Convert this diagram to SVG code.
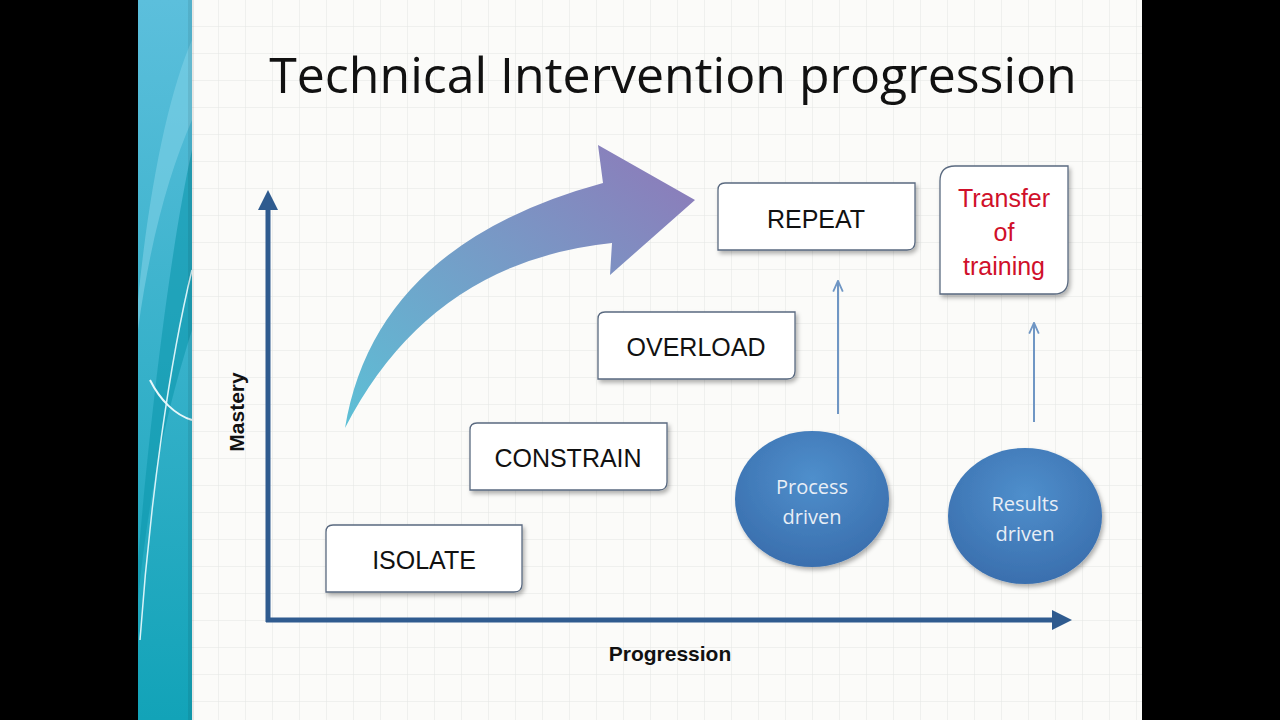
<svg xmlns="http://www.w3.org/2000/svg" width="1280" height="720" viewBox="0 0 1280 720">
<defs>
<pattern id="grid" width="27" height="27" patternUnits="userSpaceOnUse" x="192" y="0">
<rect width="27" height="27" fill="#fbfbf9"/>
<path d="M27 0V27M0 27H27" stroke="#e4e6e4" stroke-width="1" fill="none"/>
</pattern>
<linearGradient id="arr" x1="0" y1="1" x2="1" y2="0">
<stop offset="0" stop-color="#5cc0d6"/>
<stop offset="1" stop-color="#8f78b8"/>
</linearGradient>
<radialGradient id="circ" cx="0.5" cy="0.35" r="0.65">
<stop offset="0" stop-color="#4f8fcc"/>
<stop offset="1" stop-color="#3a6fae"/>
</radialGradient>
<linearGradient id="band" x1="0" y1="0" x2="0" y2="1">
<stop offset="0" stop-color="#5cbfdc"/>
<stop offset="1" stop-color="#12a3b8"/>
</linearGradient>
<marker id="ah" viewBox="0 0 10 10" refX="5" refY="5" markerWidth="4" markerHeight="4" orient="auto">
<path d="M0,0 L10,5 L0,10 z" fill="#2f5b8f"/>
</marker>
<marker id="ah2" viewBox="0 0 10 10" refX="8" refY="5" markerWidth="6" markerHeight="6" orient="auto">
<path d="M0,1 L9,5 L0,9" fill="none" stroke="#6f96c4" stroke-width="1.5"/>
</marker>
<filter id="sh" x="-10%" y="-10%" width="130%" height="140%">
<feDropShadow dx="2" dy="3" stdDeviation="2" flood-color="#000" flood-opacity="0.3"/>
</filter>
</defs>
<style>
.box{fill:#fff;stroke:#5a6a80;stroke-width:1.3;filter:url(#sh)}
.bt{font-family:"Liberation Sans",Arial,sans-serif;font-size:25px;fill:#111;text-anchor:middle}
.ct{font-family:"Open Sans","Liberation Sans",sans-serif;font-size:20px;fill:#e8eef6;text-anchor:middle}
.ax{font-family:"Liberation Sans",Arial,sans-serif;font-size:21px;font-weight:bold;fill:#111;text-anchor:middle}
</style>
<rect width="1280" height="720" fill="#000"/>
<rect x="138" y="0" width="1004" height="720" fill="url(#grid)"/>
<rect x="138" y="0" width="54" height="720" fill="url(#band)"/>
<path d="M138,300 C150,180 170,90 192,40 L192,120 C170,170 150,240 138,330Z" fill="#7fd0e6" opacity="0.6"/>
<path d="M138,560 C150,420 170,250 192,150 L192,330 C170,400 150,480 138,600Z" fill="#0d97ad" opacity="0.6"/>
<path d="M140,640 C150,500 170,360 192,270" stroke="#d8f3f8" stroke-width="1.5" fill="none"/>
<path d="M150,380 C160,400 175,415 192,420" stroke="#e8f8fb" stroke-width="2" fill="none"/>
<rect x="188" y="0" width="6" height="720" fill="#000" opacity="0.08"/>
<text x="673" y="93" font-family="'Open Sans','Liberation Sans',sans-serif" font-size="50" fill="#111" text-anchor="middle">Technical Intervention progression</text>

<g id="connectors">
<line x1="268" y1="622" x2="268" y2="200" stroke="#2f5b8f" stroke-width="5" marker-end="url(#ah)"/>
<line x1="266" y1="620" x2="1062" y2="620" stroke="#2f5b8f" stroke-width="5" marker-end="url(#ah)"/>
<line x1="838" y1="414" x2="838" y2="282" stroke="#6f96c4" stroke-width="2" marker-end="url(#ah2)"/>
<line x1="1034" y1="422" x2="1034" y2="324" stroke="#6f96c4" stroke-width="2" marker-end="url(#ah2)"/>
<path d="M345,428 Q375,245 603,183 L598,145 L695,200 L610,275 L612,243 Q430,262 345,428 Z" fill="url(#arr)"/>
</g>
<text class="ax" x="670" y="661">Progression</text>
<text class="ax" transform="translate(244,412) rotate(-90)">Mastery</text>

<g id="isolate"><path class="box" d="M333,525 H522 V584 Q522,592 514,592 H326 V532 Q326,525 333,525Z"/><text class="bt" x="424" y="569">ISOLATE</text></g>
<g id="constrain"><path class="box" d="M477,423 H667 V482 Q667,490 659,490 H470 V430 Q470,423 477,423Z"/><text class="bt" x="568" y="467">CONSTRAIN</text></g>
<g id="overload"><path class="box" d="M605,312 H795 V371 Q795,379 787,379 H598 V319 Q598,312 605,312Z"/><text class="bt" x="696" y="356">OVERLOAD</text></g>
<g id="repeat"><path class="box" d="M725,183 H915 V242 Q915,250 907,250 H718 V190 Q718,183 725,183Z"/><text class="bt" x="816" y="228">REPEAT</text></g>
<g id="transfer"><path class="box" d="M955,166 H1068 V280 Q1068,294 1054,294 H940 V181 Q940,166 955,166Z"/>
<text class="bt" fill="#d0102a" style="fill:#d0102a" x="1004" y="207">Transfer</text>
<text class="bt" style="fill:#d0102a" x="1004" y="241">of</text>
<text class="bt" style="fill:#d0102a" x="1004" y="275">training</text></g>
<g id="process"><ellipse cx="812" cy="499" rx="77" ry="68" fill="url(#circ)" filter="url(#sh)"/><text class="ct" x="812" y="494">Process</text><text class="ct" x="812" y="524">driven</text></g>
<g id="results"><ellipse cx="1025" cy="516" rx="77" ry="68" fill="url(#circ)" filter="url(#sh)"/><text class="ct" x="1025" y="511">Results</text><text class="ct" x="1025" y="541">driven</text></g>
</svg>
